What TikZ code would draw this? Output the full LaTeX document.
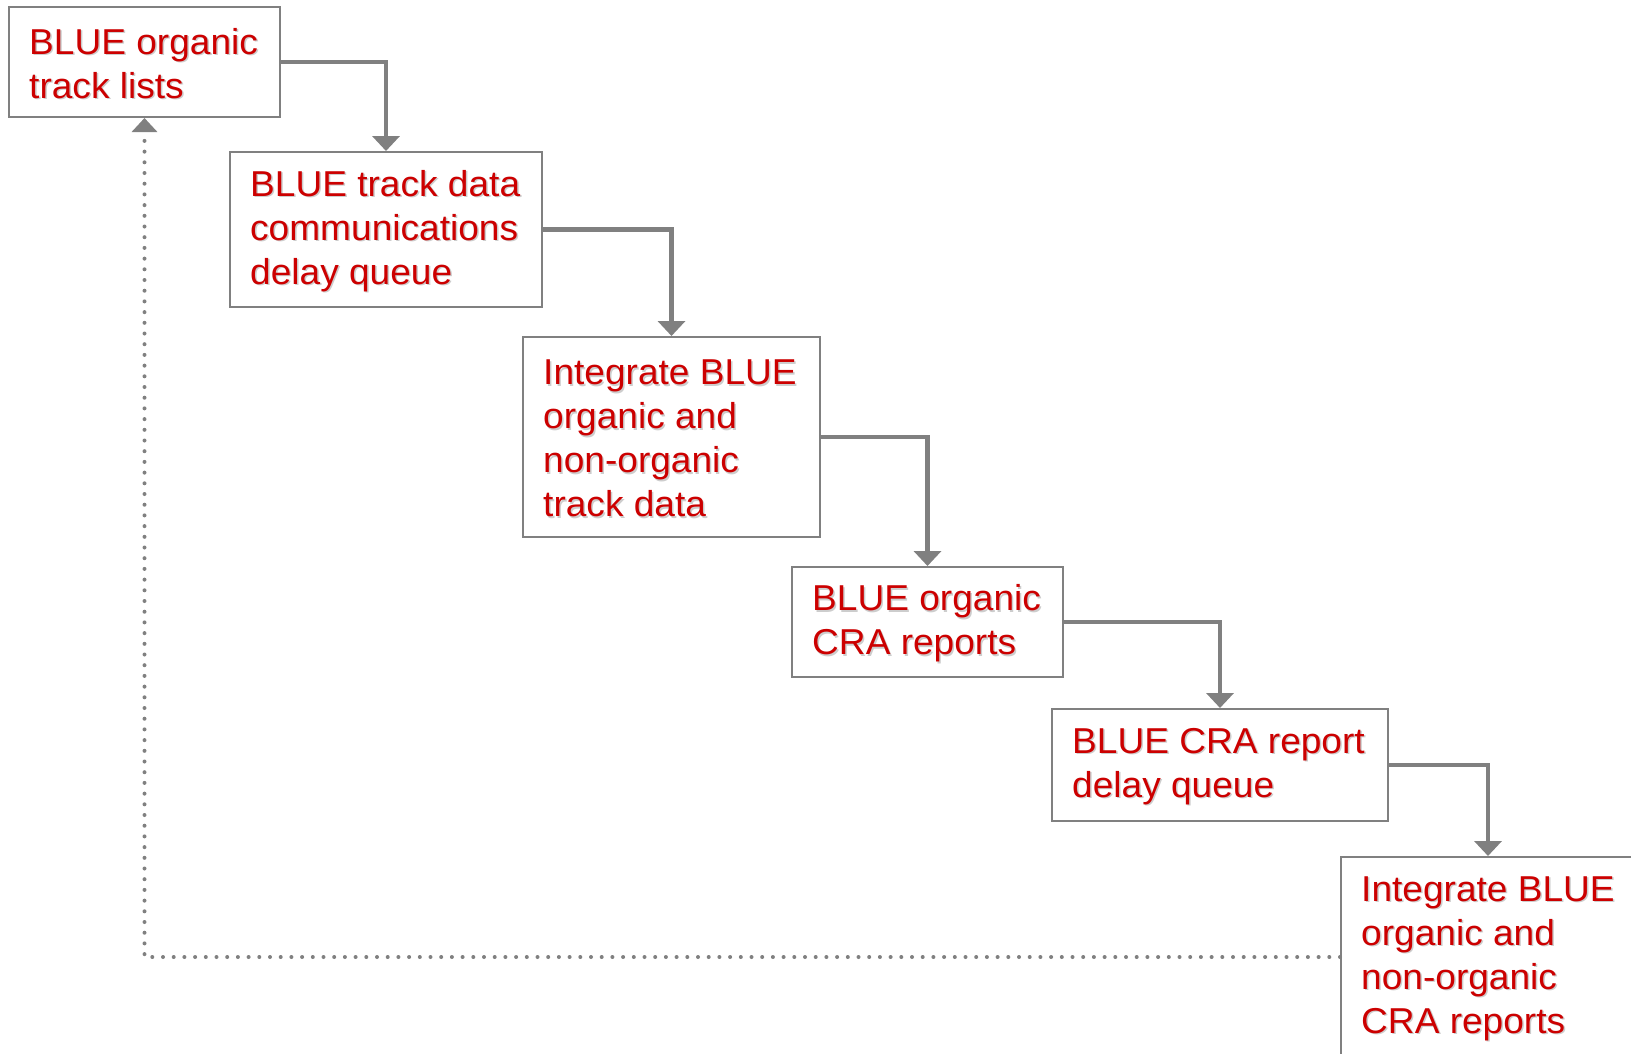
\documentclass[tikz,border=0pt]{standalone}
\usepackage{fontspec}
\setmainfont{Liberation Sans}[FakeStretch=1.03]
\usetikzlibrary{arrows.meta}
\definecolor{txtred}{RGB}{204,0,0}
\definecolor{linegrey}{RGB}{128,128,128}
\definecolor{shadowgrey}{RGB}{205,205,205}

\begin{document}
\begin{tikzpicture}[x=1pt,y=-1pt,
  stepbox/.style={draw=linegrey, line width=2pt, anchor=north west, inner sep=0pt},
  steptext/.style={text=txtred, align=left, inner sep=0pt, anchor=west,
    font=\fontsize{36}{44}\selectfont},
  stepshadow/.style={steptext, text=shadowgrey},
  flow/.style={draw=linegrey, line width=4.5pt, line join=miter,
    -{Triangle[width=27pt,length=15pt]}},
  loopback/.style={draw=linegrey, line width=4pt, line cap=round,
    dash pattern=on 0pt off 10.7pt, -{Triangle[width=25pt,length=14pt]}}]

\useasboundingbox (0,0) rectangle (1631,1053);
\clip (0,0) rectangle (1631,1053);
\fill[white] (0,0) rectangle (1631,1053);

% boxes of the chain
\node[stepbox, minimum width=271pt, minimum height=110pt] (b1) at (8,6) {};
\node[stepbox, minimum width=312pt, minimum height=155pt] (b2) at (229,151) {};
\node[stepbox, minimum width=297pt, minimum height=200pt] (b3) at (522,336) {};
\node[stepbox, minimum width=271pt, minimum height=110pt] (b4) at (791,566) {};
\node[stepbox, minimum width=336pt, minimum height=112pt] (b5) at (1051,708) {};
\node[stepbox, minimum width=294pt, minimum height=200pt] (b6) at (1340,856) {};

% labels with a soft drop shadow
\foreach \b/\txt in {
    b1/{BLUE organic\\track lists},
    b2/{BLUE track data\\communications\\delay queue},
    b3/{Integrate BLUE\\organic and\\non-organic\\track data},
    b4/{BLUE organic\\CRA reports},
    b5/{BLUE CRA report\\delay queue},
    b6/{Integrate BLUE\\organic and\\non-organic\\CRA reports}} {
  \node[stepshadow] (\b-shadow) at ([xshift=22.5pt,yshift=-3pt]\b.west) {\txt};
  \node[steptext] (\b-text) at ([xshift=21pt,yshift=-1.5pt]\b.west) {\txt};
}

% forward flow
\draw[flow] (b1.east) -| (b2.north);
\draw[flow] (b2.east) -| (b3.north);
\draw[flow] (b3.east) -| (b4.north);
\draw[flow] (b4.east) -| (b5.north);
\draw[flow] (b5.east) -| (b6.north);

% feedback to the start
\draw[loopback] (b6.west) -| (b1.south);
\end{tikzpicture}
\end{document}
